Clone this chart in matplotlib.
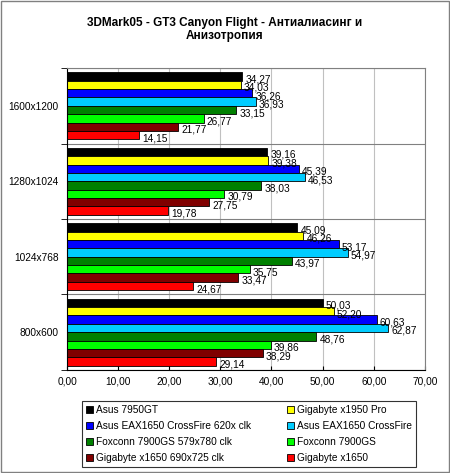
import numpy as np
import matplotlib.pyplot as plt
from matplotlib.patches import Rectangle

plt.rcParams['font.family'] = ['Liberation Sans', 'DejaVu Sans']

#-Data------------------------------------------------------------------------#
resolutions = ["1600x1200", "1280x1024", "1024x768", "800x600"]
cards = ["Asus 7950GT", "Gigabyte x1950 Pro", "Asus EAX1650 CrossFire 620x clk",
         "Asus EAX1650 CrossFire", "Foxconn 7900GS 579x780 clk", "Foxconn 7900GS",
         "Gigabyte x1650 690x725 clk", "Gigabyte x1650"]
asus_7950gt = [34.27, 39.16, 45.09, 50.03]
gb_x1950pro = [34.03, 39.38, 46.26, 52.20]
asus_cf_oc = [36.26, 45.39, 53.17, 60.63]
asus_cf = [36.93, 46.53, 54.97, 62.87]
fox_7900gs_oc = [33.15, 38.03, 43.97, 48.76]
fox_7900gs = [26.77, 30.79, 35.75, 39.86]
gb_x1650_oc = [21.77, 27.75, 33.47, 38.29]
gb_x1650 = [14.15, 19.78, 24.67, 29.14]
series = [asus_7950gt, gb_x1950pro, asus_cf_oc, asus_cf,
          fox_7900gs_oc, fox_7900gs, gb_x1650_oc, gb_x1650]
colors = ["#000000", "#FFFF00", "#0000FF", "#00CCFF",
          "#008000", "#00FF00", "#800000", "#FF0000"]

#-Plot------------------------------------------------------------------------#
fig = plt.figure(figsize=(4.5, 4.73), dpi=100)
fig.patches.append(Rectangle((0.002, 0.002), 0.996, 0.996, transform=fig.transFigure,
                             fill=False, edgecolor="#808080", lw=1))
ax = fig.add_axes([0.149, 0.218, 0.795, 0.638])

h = 0.111
y = np.arange(len(resolutions))
bars = []
for j, vals in enumerate(series):
    pos = y - 0.444 + h * (j + 0.5)
    b = ax.barh(pos, vals, height=h, color=colors[j], edgecolor="black", lw=0.6, label=cards[j])
    bars.append(b)
    for p, v in zip(pos, vals):
        ax.text(v + 0.6, p + 0.04, f"{v:.2f}".replace(".", ","), va="center", ha="left", fontsize=7.3)

ax.set_xlim(0, 70)
ax.set_ylim(3.5, -0.5)
ax.set_xticks(np.arange(0, 71, 10))
ax.set_xticklabels([f"{t:.2f}".replace(".", ",") for t in np.arange(0, 71, 10)], fontsize=7.3)
ax.set_yticks(y)
ax.set_yticklabels(resolutions, fontsize=7.3)
ax.tick_params(axis="y", length=0, pad=6)
ax.tick_params(axis="x", length=3, direction="in", pad=5)
ax.set_yticks(np.arange(-0.5, 4, 1), minor=True)
ax.tick_params(axis="y", which="minor", length=4, direction="out")
ax.grid(axis="x", color="#C0C0C0", lw=0.8)
ax.grid(axis="y", which="minor", color="#808080", lw=0.8)
ax.set_axisbelow(True)
for s in ["top", "right"]:
    ax.spines[s].set_color("#808080")
ax.spines["left"].set_color("black")
ax.spines["bottom"].set_color("black")

fig.suptitle("3DMark05 - GT3 Canyon Flight - Антиалиасинг и\nАнизотропия",
             fontsize=8.5, fontweight="bold", y=0.965)

order = [0, 2, 4, 6, 1, 3, 5, 7]
leg = fig.legend([bars[i] for i in order], [cards[i] for i in order], ncol=2,
                 loc="center", bbox_to_anchor=(0.553, 0.082), fontsize=7.3,
                 frameon=True, fancybox=False, edgecolor="black",
                 handlelength=0.7, handleheight=0.7, handletextpad=0.3,
                 columnspacing=3.5, labelspacing=0.6, borderpad=0.4)
leg.get_frame().set_linewidth(0.8)

plt.savefig("out.png", dpi=100)
